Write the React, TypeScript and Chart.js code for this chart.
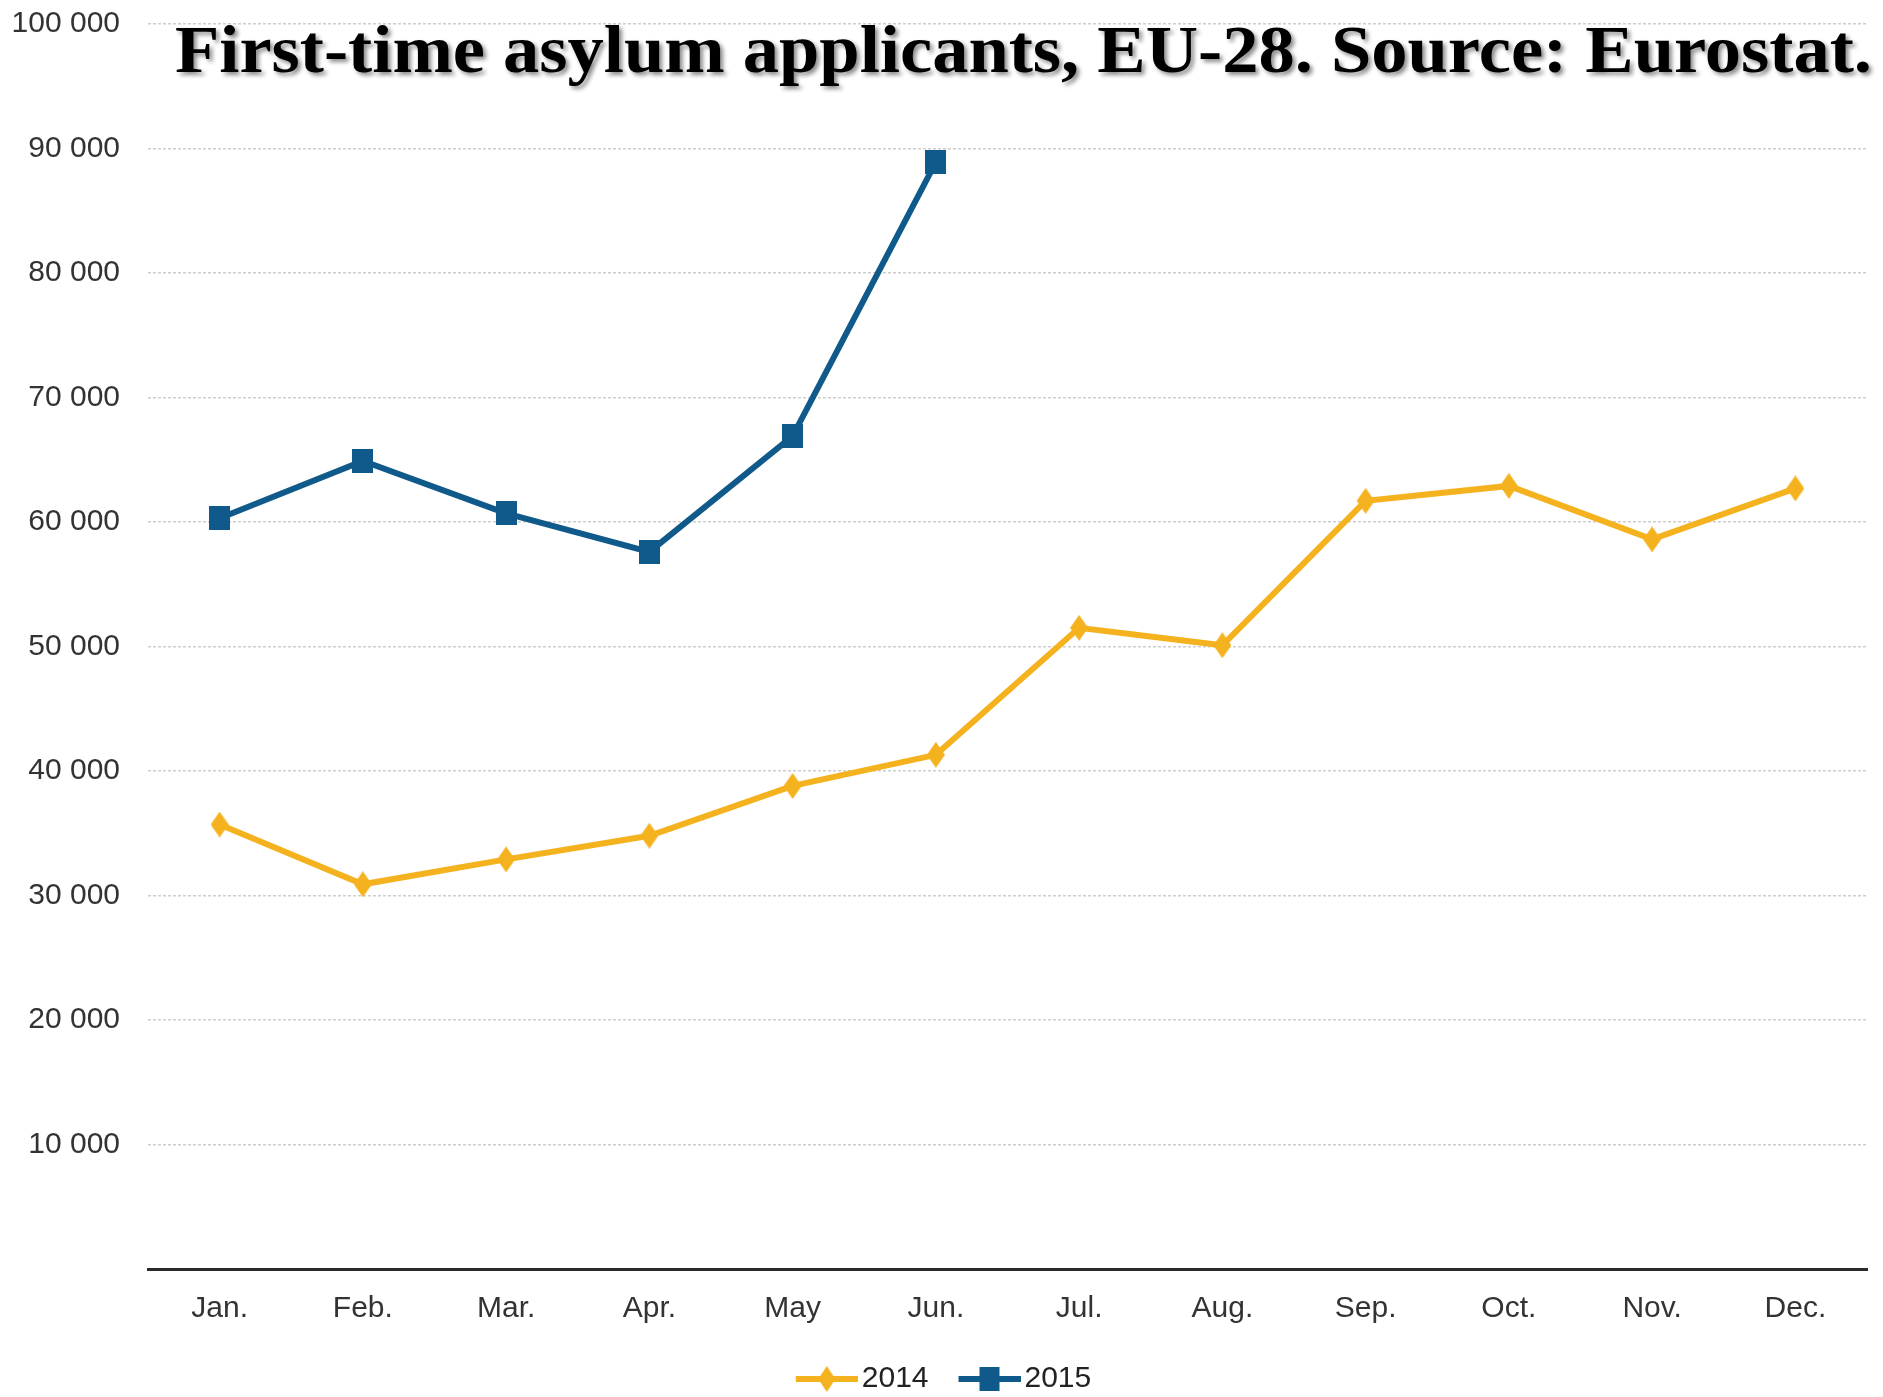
import { useEffect, useRef } from 'react';
import { Chart, registerables } from 'chart.js';

Chart.register(...registerables);

const months = ['Jan.', 'Feb.', 'Mar.', 'Apr.', 'May', 'Jun.', 'Jul.', 'Aug.', 'Sep.', 'Oct.', 'Nov.', 'Dec.'];
const values2014 = [35700, 30900, 32900, 34800, 38800, 41300, 51500, 50100, 61700, 62900, 58600, 62700];
const values2015: (number | null)[] = [60300, 64900, 60700, 57600, 66900, 88900, null, null, null, null, null, null];
const seriesNames = ['2014', '2015'];
const titleText = 'First-time asylum applicants, EU-28. Source: Eurostat.';

const COLOR_2014 = '#F5B21F';
const COLOR_2015 = '#0F5A8A';
const LABEL_FONT = "'Liberation Sans', Arial, sans-serif";

function makeCanvas(w: number, h: number) {
  const c = document.createElement('canvas');
  c.width = w;
  c.height = h;
  return c;
}

function drawDiamond(ctx: CanvasRenderingContext2D, cx: number, cy: number, w: number, h: number, color: string) {
  ctx.fillStyle = color;
  ctx.beginPath();
  ctx.moveTo(cx, cy - h / 2);
  ctx.lineTo(cx + w / 2, cy);
  ctx.lineTo(cx, cy + h / 2);
  ctx.lineTo(cx - w / 2, cy);
  ctx.closePath();
  ctx.fill();
}

function diamondImage() {
  const c = makeCanvas(18, 26);
  const ctx = c.getContext('2d')!;
  drawDiamond(ctx, 9, 13, 18, 26, COLOR_2014);
  return c;
}

function squareImage() {
  const c = makeCanvas(21, 24);
  const ctx = c.getContext('2d')!;
  ctx.fillStyle = COLOR_2015;
  ctx.fillRect(0, 0, 21, 24);
  return c;
}

function legendImage(kind: 'diamond' | 'square') {
  const W = 93;
  const H = 28;
  const c = makeCanvas(W, H);
  const ctx = c.getContext('2d')!;
  const color = kind === 'diamond' ? COLOR_2014 : COLOR_2015;
  ctx.strokeStyle = color;
  ctx.lineWidth = 6;
  ctx.beginPath();
  ctx.moveTo(W - 62, H / 2);
  ctx.lineTo(W, H / 2);
  ctx.stroke();
  const mx = W - 31;
  if (kind === 'diamond') {
    drawDiamond(ctx, mx, H / 2, 17, 26, color);
  } else {
    ctx.fillStyle = color;
    ctx.fillRect(mx - 10, H / 2 - 12, 20, 24);
  }
  return c;
}

function formatThousands(v: number) {
  if (v === 0) return '';
  return String(v).replace(/\B(?=(\d{3})+(?!\d))/g, ' ');
}

const titlePlugin = {
  id: 'overlayTitle',
  afterDraw(chart: any) {
    const ctx: CanvasRenderingContext2D = chart.ctx;
    ctx.save();
    ctx.font = "bold 68px 'Liberation Serif', 'DejaVu Serif', serif";
    ctx.textBaseline = 'alphabetic';
    ctx.textAlign = 'left';
    const w = ctx.measureText(titleText).width;
    const target = 1697;
    const sx = target / w;
    ctx.translate(175, 72);
    ctx.scale(sx, 1);
    ctx.shadowColor = 'rgba(0,0,0,0.45)';
    ctx.shadowOffsetX = 3;
    ctx.shadowOffsetY = 3;
    ctx.shadowBlur = 4;
    ctx.fillStyle = '#000';
    ctx.fillText(titleText, 0, 0);
    ctx.restore();
  },
};

export default function App() {
  const ref = useRef<HTMLCanvasElement | null>(null);

  useEffect(() => {
    if (!ref.current) return;
    const pt2014 = diamondImage();
    const pt2015 = squareImage();
    const lg2014 = legendImage('diamond');
    const lg2015 = legendImage('square');

    const chart = new Chart(ref.current, {
      type: 'line',
      data: {
        labels: months,
        datasets: [
          {
            label: seriesNames[0],
            data: values2014,
            borderColor: COLOR_2014,
            backgroundColor: COLOR_2014,
            borderWidth: 6,
            pointStyle: pt2014 as any,
            pointRadius: 10,
            tension: 0,
            fill: false,
          },
          {
            label: seriesNames[1],
            data: values2015,
            borderColor: COLOR_2015,
            backgroundColor: COLOR_2015,
            borderWidth: 6,
            pointStyle: pt2015 as any,
            pointRadius: 10,
            tension: 0,
            fill: false,
            spanGaps: false,
          },
        ],
      },
      options: {
        animation: false,
        responsive: true,
        maintainAspectRatio: false,
        layout: { padding: { top: 24, right: 16, left: 0, bottom: -7 } },
        plugins: {
          tooltip: { enabled: false },
          title: { display: false },
          legend: {
            display: true,
            position: 'bottom',
            labels: {
              usePointStyle: true,
              pointStyleWidth: 71,
              padding: 10,
              color: '#222',
              font: { size: 30, family: LABEL_FONT },
              generateLabels: () => [
                { text: seriesNames[0], pointStyle: lg2014 as any, fillStyle: COLOR_2014, strokeStyle: COLOR_2014, lineWidth: 0, hidden: false, datasetIndex: 0, fontColor: '#222' },
                { text: seriesNames[1], pointStyle: lg2015 as any, fillStyle: COLOR_2015, strokeStyle: COLOR_2015, lineWidth: 0, hidden: false, datasetIndex: 1, fontColor: '#222' },
              ],
            },
          },
        },
        scales: {
          x: {
            type: 'category',
            offset: true,
            grid: { display: false, drawTicks: false },
            border: { display: true, color: '#2a2a2a', width: 3 },
            ticks: {
              color: '#333',
              padding: 22,
              font: { size: 30, family: LABEL_FONT },
              maxRotation: 0,
              autoSkip: false,
            },
            afterFit: (scale: any) => {
              scale.height = 85;
            },
          },
          y: {
            min: 0,
            max: 100000,
            grid: { color: '#cdcdcd', lineWidth: 1.5, drawTicks: false },
            border: { display: false, dash: [3, 2] },
            ticks: {
              stepSize: 10000,
              color: '#333',
              padding: 28,
              font: { size: 30, family: LABEL_FONT },
              callback: (v: any) => formatThousands(Number(v)),
            },
            afterFit: (scale: any) => {
              scale.width = 148;
              scale.paddingTop = 0;
              scale.paddingBottom = 0;
            },
          },
        },
      },
      plugins: [titlePlugin],
    });
    return () => chart.destroy();
  }, []);

  return (
    <div style={{ position: 'absolute', left: 0, top: 0, width: 1883, height: 1397, background: '#fff' }}>
      <canvas ref={ref} />
    </div>
  );
}
